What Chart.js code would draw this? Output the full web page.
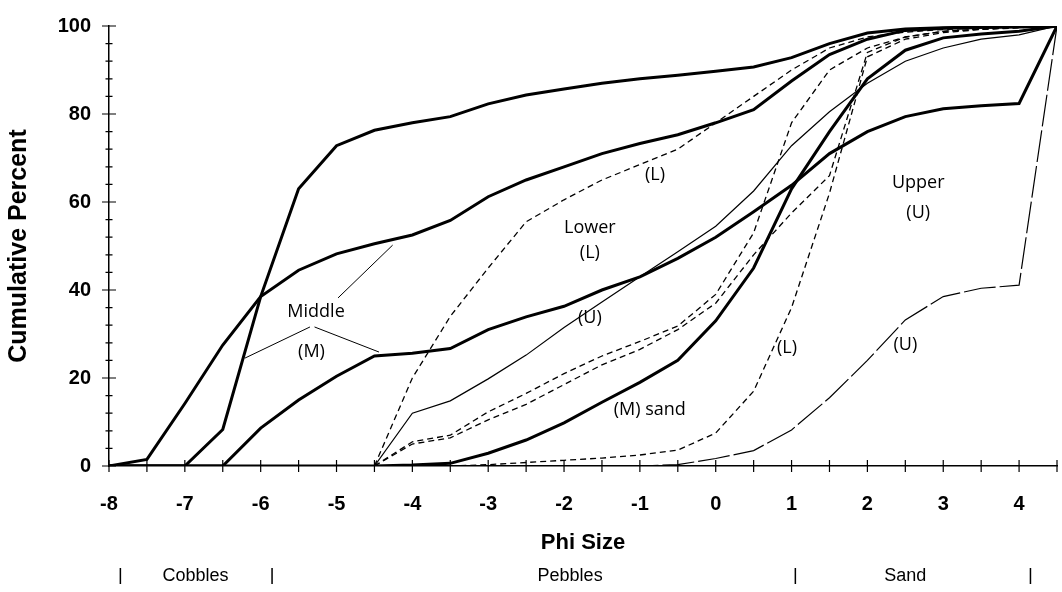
<!DOCTYPE html>
<html>
<head>
<meta charset="utf-8">
<title>Cumulative Percent vs Phi Size</title>
<script src="https://cdn.jsdelivr.net/npm/chart.js@4.4.1/dist/chart.umd.min.js"></script>
<style>
  body { margin: 0; background: #fff; }
</style>
</head>
<body>
<canvas id="graficoPhi" width="1062" height="592"></canvas>
<script>
// phi classes (x) every half unit
const phi = [-8, -7.5, -7, -6.5, -6, -5.5, -5, -4.5, -4, -3.5, -3, -2.5, -2, -1.5, -1, -0.5, 0, 0.5, 1, 1.5, 2, 2.5, 3, 3.5, 4, 4.5];

// Middle (M) samples - thick lines
const middleGravel = [0, 0, 0, 8.3, 38.5, 63, 72.8, 76.3, 78, 79.4, 82.3, 84.3, 85.7, 87, 88, 88.8, 89.7, 90.7, 92.8, 96, 98.4, 99.3, 99.6, 99.8, 99.9, 100];
const middleMixed = [0, 1.5, 14.2, 27.5, 38.5, 44.5, 48.2, 50.5, 52.5, 55.8, 61.2, 65, 68, 71, 73.3, 75.3, 78, 81, 87.5, 93.5, 97, 99, 99.5, 99.7, 99.8, 100];
const middleLower = [0, 0, 0, 0, 8.6, 15, 20.4, 25, 25.6, 26.7, 31, 33.9, 36.3, 40, 43, 47.2, 52, 57.8, 63.8, 71, 76, 79.4, 81.2, 81.9, 82.4, 100];
const middleSand = [0, 0, 0, 0, 0, 0, 0, 0, 0.2, 0.6, 2.9, 5.9, 9.8, 14.5, 19, 24, 33, 45, 63, 76, 88, 94.5, 97.3, 98.2, 98.8, 100];

// Upper (U) samples - thin solid / long dash
const upperPebble = [null, null, null, null, null, null, null, 0, 12, 14.8, 19.8, 25.2, 31.5, 37.3, 43, 48.7, 54.5, 62.5, 72.8, 80.5, 87, 92, 95, 97, 98, 100];
const upperSand = [null, null, null, null, null, null, null, 0, 0, 0, 0, 0, 0, 0, 0, 0.3, 1.7, 3.5, 8.2, 15.5, 24, 33.2, 38.5, 40.4, 41.1, 100];

// Lower (L) samples - short dash
const lowerPebble = [null, null, null, null, null, null, null, 0, 20, 34, 45, 55.5, 60.5, 65, 68.5, 72, 78, 84, 90, 95, 97.5, 98.6, 99.2, 99.5, 99.8, 100];
const lowerMixedA = [null, null, null, null, null, null, null, 0, 5.5, 7, 12.3, 16.5, 21, 25, 28.3, 31.8, 39, 53, 78, 90, 95, 97.5, 98.8, 99.3, 99.7, 100];
const lowerMixedB = [null, null, null, null, null, null, null, 0, 5, 6.4, 10.5, 14, 18.5, 23, 26.5, 31, 37, 48, 57.5, 66, 94, 97.5, 98.8, 99.3, 99.7, 100];
const lowerSand = [null, null, null, null, null, null, null, null, null, 0, 0.3, 0.8, 1.3, 1.8, 2.5, 3.6, 7.5, 17, 36, 62, 93, 97, 98.5, 99.2, 99.6, 100];

// tick labels
const xLabels = [-8, -7, -6, -5, -4, -3, -2, -1, 0, 1, 2, 3, 4];
const yLabels = [0, 20, 40, 60, 80, 100];

// text on the plot, in phi / percent units
const notas = [
  { text: 'Middle', x: -5.27, y: 35 },
  { text: '(M)', x: -5.33, y: 25.9 },
  { text: 'Lower', x: -1.66, y: 54.1 },
  { text: '(L)', x: -1.66, y: 48.4 },
  { text: '(L)', x: -0.8, y: 66.1 },
  { text: '(U)', x: -1.66, y: 33.6 },
  { text: '(M) sand', x: -0.87, y: 12.7 },
  { text: '(L)', x: 0.94, y: 26.8 },
  { text: 'Upper', x: 2.67, y: 64.3 },
  { text: '(U)', x: 2.67, y: 57.5 },
  { text: '(U)', x: 2.5, y: 27.5 }
];
const guias = [
  [-5.35, 31.6, -6.21, 24.5],
  [-5.29, 31.6, -4.44, 25.9],
  [-4.98, 38.2, -4.26, 50.2]
];
const clases = ['Cobbles', 'Pebbles', 'Sand'];
const clasesCentro = [-6.86, -1.92, 2.5];
const clasesLimites = [-7.85, -5.85, 1.05, 4.15];

function puntos(vals) {
  return phi.map((p, i) => ({ x: p, y: vals[i] })).filter(d => d.y !== null);
}

const grueso = { borderWidth: 3 };
const fino = { borderWidth: 1.2 };
const rayado = { borderWidth: 1.3, borderDash: [6, 4] };
const largo = { borderWidth: 1.2, borderDash: [32, 4] };

const series = [
  [middleGravel, grueso], [middleMixed, grueso], [middleLower, grueso], [middleSand, grueso],
  [upperPebble, fino], [upperSand, largo],
  [lowerPebble, rayado], [lowerMixedA, rayado], [lowerMixedB, rayado], [lowerSand, rayado]
];

const marcas = {
  id: 'marcas',
  afterDraw(chart) {
    const ctx = chart.ctx;
    const x = chart.scales.x, y = chart.scales.y;
    const area = chart.chartArea;
    ctx.save();
    ctx.strokeStyle = '#000';
    ctx.lineWidth = 1.2;
    // ticks crossing the axes
    ctx.beginPath();
    for (let v = -8; v <= 4.5; v += 0.5) {
      const px = x.getPixelForValue(v);
      ctx.moveTo(px, area.bottom - 6); ctx.lineTo(px, area.bottom + 6);
    }
    for (let v = 0; v <= 100; v += 4) {
      const py = y.getPixelForValue(v);
      const l = v % 20 === 0 ? 7 : 3.5;
      ctx.moveTo(area.left - l, py); ctx.lineTo(area.left + l, py);
    }
    ctx.stroke();

    // leader lines
    ctx.lineWidth = 1;
    ctx.beginPath();
    guias.forEach(g => {
      ctx.moveTo(x.getPixelForValue(g[0]), y.getPixelForValue(g[1]));
      ctx.lineTo(x.getPixelForValue(g[2]), y.getPixelForValue(g[3]));
    });
    ctx.stroke();

    // labels inside
    ctx.fillStyle = '#000';
    ctx.textAlign = 'center';
    ctx.textBaseline = 'middle';
    ctx.font = '18px "Open Sans", sans-serif';
    notas.forEach(n => {
      ctx.fillText(n.text, x.getPixelForValue(n.x), y.getPixelForValue(n.y));
    });

    // size classes under the axis
    const fila = area.bottom + 110;
    ctx.font = '18px "Liberation Sans", Arial, sans-serif';
    clases.forEach((c, i) => ctx.fillText(c, x.getPixelForValue(clasesCentro[i]), fila));
    ctx.lineWidth = 1.5;
    ctx.beginPath();
    clasesLimites.forEach(v => {
      const px = x.getPixelForValue(v);
      ctx.moveTo(px, fila - 8); ctx.lineTo(px, fila + 8);
    });
    ctx.stroke();
    ctx.restore();
  }
};

const chart = new Chart(document.getElementById('graficoPhi'), {
  type: 'line',
  data: {
    datasets: series.map(s => Object.assign({
      data: puntos(s[0]),
      borderColor: '#000',
      backgroundColor: '#000',
      pointRadius: 0,
      tension: 0,
      fill: false
    }, s[1]))
  },
  options: {
    responsive: false,
    animation: false,
    layout: { padding: { top: 26, right: 5, left: 0, bottom: 0 } },
    plugins: { legend: { display: false }, tooltip: { enabled: false } },
    scales: {
      x: {
        type: 'linear',
        min: -8,
        max: 4.5,
        afterBuildTicks: s => { s.ticks = xLabels.map(v => ({ value: v })); },
        afterFit: s => { s.height = 126; },
        grid: { display: false },
        border: { display: true, color: '#000', width: 1.5 },
        ticks: {
          color: '#000',
          padding: 18,
          maxRotation: 0,
          font: { family: '"Liberation Sans", Arial, sans-serif', size: 20, weight: 'bold' }
        },
        title: {
          display: true,
          text: 'Phi Size',
          color: '#000',
          padding: { top: 8, bottom: 36 },
          font: { family: '"Liberation Sans", Arial, sans-serif', size: 22, weight: 'bold' }
        }
      },
      y: {
        min: 0,
        max: 100,
        afterBuildTicks: s => { s.ticks = yLabels.map(v => ({ value: v })); },
        afterFit: s => { s.width = 109; },
        grid: { display: false },
        border: { display: true, color: '#000', width: 1.5 },
        ticks: {
          color: '#000',
          padding: 10,
          font: { family: '"Liberation Sans", Arial, sans-serif', size: 20, weight: 'bold' }
        },
        title: {
          display: true,
          text: 'Cumulative Percent',
          color: '#000',
          padding: { bottom: 0 },
          font: { family: '"Liberation Sans", Arial, sans-serif', size: 25, weight: 'bold' }
        }
      }
    }
  },
  plugins: [marcas]
});
</script>
</body>
</html>
